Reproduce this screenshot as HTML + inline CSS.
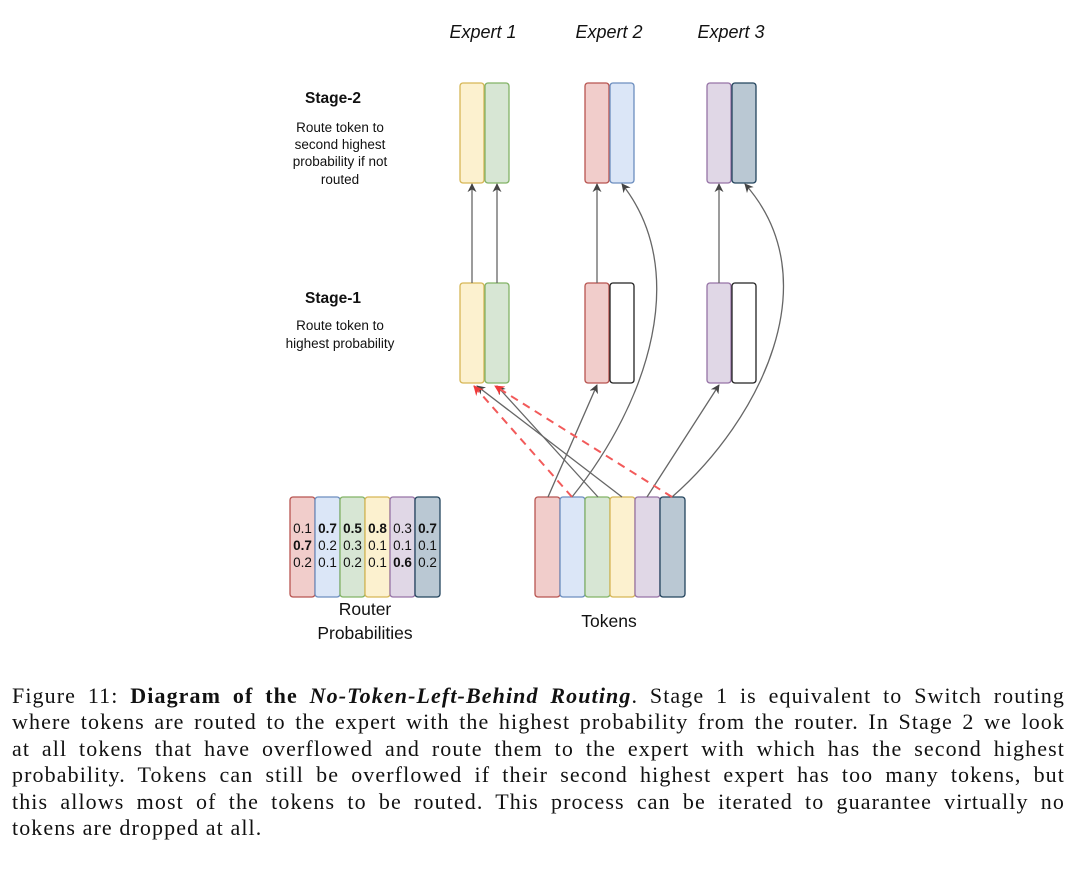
<!DOCTYPE html>
<html><head><meta charset="utf-8"><style>
html,body{margin:0;padding:0;background:#fff;}
body{width:1080px;height:877px;position:relative;overflow:hidden;}
svg{position:absolute;left:0;top:0;}
.cap{position:absolute;left:12px;top:683px;width:1053px;font-family:"Liberation Serif",serif;font-size:22px;letter-spacing:1.1px;line-height:26.4px;color:#111;}
.cap div{text-align:justify;text-align-last:justify;white-space:nowrap;}
.cap div.l{text-align-last:left;}
</style></head><body>
<svg width="1080" height="680" viewBox="0 0 1080 680" font-family="Liberation Sans, sans-serif">
<defs>
<marker id="ah" viewBox="0 0 10 10" refX="9" refY="5" markerWidth="9" markerHeight="9" orient="auto-start-reverse" markerUnits="userSpaceOnUse"><path d="M0,0 L10,5 L0,10 L3,5 Z" fill="#444"/></marker>
<marker id="ar" viewBox="0 0 10 10" refX="9" refY="5" markerWidth="10" markerHeight="10" orient="auto" markerUnits="userSpaceOnUse"><path d="M0,0 L10,5 L0,10 L3,5 Z" fill="#f03a3a"/></marker>
</defs>
<g font-style="italic" font-size="18" text-anchor="middle" fill="#111">
<text x="483" y="38">Expert 1</text><text x="609" y="38">Expert 2</text><text x="731" y="38">Expert 3</text>
</g>
<g text-anchor="middle" fill="#111">
<text x="333" y="103" font-weight="bold" font-size="15.5">Stage-2</text>
<text x="340" y="132" font-size="13.5">Route token to</text>
<text x="340" y="149" font-size="13.5">second highest</text>
<text x="340" y="166" font-size="13.5">probability if not</text>
<text x="340" y="184" font-size="13.5">routed</text>
<text x="333" y="303" font-weight="bold" font-size="15.5">Stage-1</text>
<text x="340" y="330" font-size="13.5">Route token to</text>
<text x="340" y="348" font-size="13.5">highest probability</text>
</g>
<g stroke-width="1.3">
<rect x="460" y="83" width="24" height="100" rx="3" fill="#fcf1cf" stroke="#d6b656"/>
<rect x="485" y="83" width="24" height="100" rx="3" fill="#d7e6d4" stroke="#82b366"/>
<rect x="585" y="83" width="24" height="100" rx="3" fill="#f1cdcb" stroke="#b85450"/>
<rect x="610" y="83" width="24" height="100" rx="3" fill="#dbe6f7" stroke="#6c8ebf"/>
<rect x="707" y="83" width="24" height="100" rx="3" fill="#e0d7e6" stroke="#9673a6"/>
<rect x="732" y="83" width="24" height="100" rx="3" fill="#bac8d3" stroke="#23445d"/>
<rect x="460" y="283" width="24" height="100" rx="3" fill="#fcf1cf" stroke="#d6b656"/>
<rect x="485" y="283" width="24" height="100" rx="3" fill="#d7e6d4" stroke="#82b366"/>
<rect x="585" y="283" width="24" height="100" rx="3" fill="#f1cdcb" stroke="#b85450"/>
<rect x="610" y="283" width="24" height="100" rx="3" fill="#fff" stroke="#222"/>
<rect x="707" y="283" width="24" height="100" rx="3" fill="#e0d7e6" stroke="#9673a6"/>
<rect x="732" y="283" width="24" height="100" rx="3" fill="#fff" stroke="#222"/>
<rect x="290" y="497" width="25" height="100" rx="3" fill="#f1cdcb" stroke="#b85450"/>
<rect x="315" y="497" width="25" height="100" rx="3" fill="#dbe6f7" stroke="#6c8ebf"/>
<rect x="340" y="497" width="25" height="100" rx="3" fill="#d7e6d4" stroke="#82b366"/>
<rect x="365" y="497" width="25" height="100" rx="3" fill="#fcf1cf" stroke="#d6b656"/>
<rect x="390" y="497" width="25" height="100" rx="3" fill="#e0d7e6" stroke="#9673a6"/>
<rect x="415" y="497" width="25" height="100" rx="3" fill="#bac8d3" stroke="#23445d"/>
<rect x="535" y="497" width="25" height="100" rx="3" fill="#f1cdcb" stroke="#b85450"/>
<rect x="560" y="497" width="25" height="100" rx="3" fill="#dbe6f7" stroke="#6c8ebf"/>
<rect x="585" y="497" width="25" height="100" rx="3" fill="#d7e6d4" stroke="#82b366"/>
<rect x="610" y="497" width="25" height="100" rx="3" fill="#fcf1cf" stroke="#d6b656"/>
<rect x="635" y="497" width="25" height="100" rx="3" fill="#e0d7e6" stroke="#9673a6"/>
<rect x="660" y="497" width="25" height="100" rx="3" fill="#bac8d3" stroke="#23445d"/>
</g>
<g font-size="13.5" text-anchor="middle" fill="#111">
<text x="302.5" y="533">0.1</text><text x="302.5" y="550" font-weight="bold">0.7</text><text x="302.5" y="567">0.2</text>
<text x="327.5" y="533" font-weight="bold">0.7</text><text x="327.5" y="550">0.2</text><text x="327.5" y="567">0.1</text>
<text x="352.5" y="533" font-weight="bold">0.5</text><text x="352.5" y="550">0.3</text><text x="352.5" y="567">0.2</text>
<text x="377.5" y="533" font-weight="bold">0.8</text><text x="377.5" y="550">0.1</text><text x="377.5" y="567">0.1</text>
<text x="402.5" y="533">0.3</text><text x="402.5" y="550">0.1</text><text x="402.5" y="567" font-weight="bold">0.6</text>
<text x="427.5" y="533" font-weight="bold">0.7</text><text x="427.5" y="550">0.1</text><text x="427.5" y="567">0.2</text>
</g>
<g font-size="17.5" text-anchor="middle" fill="#111">
<text x="365" y="615">Router</text><text x="365" y="639">Probabilities</text>
<text x="609" y="627">Tokens</text>
</g>
<g stroke="#666" stroke-width="1.3" fill="none" marker-end="url(#ah)">
<line x1="472" y1="283" x2="472" y2="184"/>
<line x1="497" y1="283" x2="497" y2="184"/>
<line x1="597" y1="283" x2="597" y2="184"/>
<line x1="719" y1="283" x2="719" y2="184"/>
<line x1="548" y1="497" x2="597" y2="385"/>
<line x1="647" y1="497" x2="719" y2="385"/>
<line x1="598" y1="497" x2="497" y2="386"/>
<line x1="622" y1="497" x2="477" y2="386"/>
<path d="M572,497 C650,400 690,270 622,184"/>
<path d="M672,497 C760,420 830,280 745,184"/>
</g>
<g stroke="#f25a5a" stroke-width="2" stroke-dasharray="8,6" fill="none" marker-end="url(#ar)">
<line x1="572" y1="497" x2="474" y2="386"/>
<line x1="672" y1="497" x2="495" y2="386"/>
</g>
</svg>
<div class="cap">
<div>Figure 11: <b>Diagram of the <i>No-Token-Left-Behind Routing</i></b>. Stage 1 is equivalent to Switch routing</div>
<div>where tokens are routed to the expert with the highest probability from the router. In Stage 2 we look</div>
<div>at all tokens that have overflowed and route them to the expert with which has the second highest</div>
<div>probability. Tokens can still be overflowed if their second highest expert has too many tokens, but</div>
<div>this allows most of the tokens to be routed. This process can be iterated to guarantee virtually no</div>
<div class="l">tokens are dropped at all.</div>
</div>
</body></html>
